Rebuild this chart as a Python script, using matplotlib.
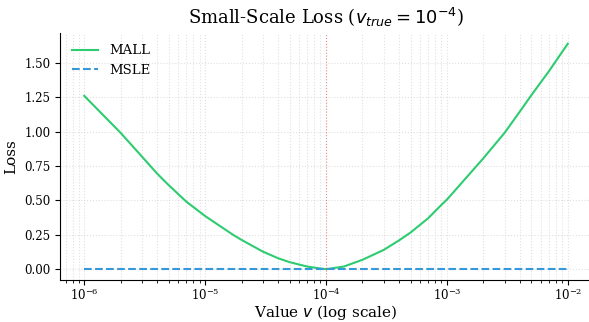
import matplotlib
matplotlib.use('Agg')
import matplotlib.pyplot as plt

# values
v_pred = [1e-6, 2e-6, 3e-6, 4e-6, 5e-6, 7e-6,
          1e-5, 1.7e-5, 2e-5, 3e-5, 4e-5, 5e-5, 7e-5, 9e-5,
          1e-4, 1.4e-4, 2e-4, 3e-4, 4e-4, 5e-4, 7e-4, 9e-4,
          1e-3, 2e-3, 3e-3, 4e-3, 5e-3, 7e-3, 9e-3, 1e-2]
mall_loss = [1.259, 0.99, 0.818, 0.695, 0.61, 0.49,
             0.386, 0.25, 0.213, 0.128, 0.080, 0.051, 0.019, 0.005,
             0.0, 0.019, 0.068, 0.140, 0.208, 0.266, 0.370, 0.467,
             0.505, 0.805, 0.99, 1.143, 1.264, 1.439, 1.579, 1.637]
msle_loss = [0.0] * len(v_pred)
v_true = 1e-4

plt.rcParams['font.family'] = 'DejaVu Serif'

fig = plt.figure(figsize=(5.89, 3.22), dpi=100)
ax = fig.add_axes([0.102, 0.129, 0.903, 0.770])

ax.plot(v_pred, mall_loss, '-', color='#2ecc71', lw=1.5, label='MALL')
ax.plot(v_pred, msle_loss, '--', color='#3498db', lw=1.5, label='MSLE')
ax.axvline(v_true, color='red', ls=':', lw=0.8, alpha=0.4)

ax.set_xscale('log')
ax.set_title(r'Small-Scale Loss ($v_{true} = 10^{-4}$)', fontsize=13)
ax.set_xlabel(r'Value $v$ (log scale)', fontsize=11, labelpad=0)
ax.set_ylabel('Loss', fontsize=11)
ax.tick_params(labelsize=8.5)
ax.tick_params(axis='x', pad=1.5)
ax.grid(True, which='both', ls=':', color='#cccccc', alpha=0.6, lw=0.8)
ax.spines['top'].set_visible(False)
ax.spines['right'].set_visible(False)
ax.legend(loc='upper left', frameon=False, fontsize=9.5)

fig.savefig('out.png', dpi=100)
